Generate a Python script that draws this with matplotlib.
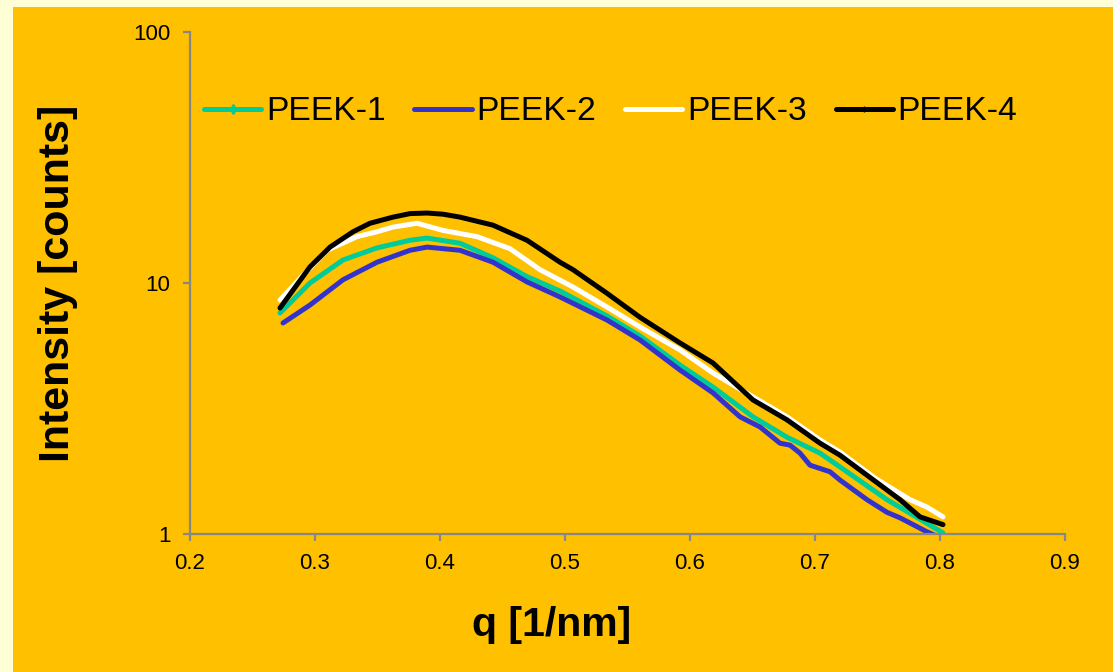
import numpy as np
import matplotlib.pyplot as plt
from matplotlib.lines import Line2D
from matplotlib.patches import Rectangle

# PEEK-1 (green)
q1 = [0.272, 0.296, 0.3224, 0.3496, 0.376, 0.3896, 0.416, 0.4424, 0.4696, 0.496,
      0.5336, 0.56, 0.592, 0.6184, 0.6504, 0.6776, 0.704, 0.72, 0.7576, 0.776, 0.8024]
i1 = [7.60, 10.0, 12.35, 13.8, 14.8, 15.1, 14.4, 12.6, 10.6, 9.29,
      7.39, 6.15, 4.71, 3.85, 2.93, 2.43, 2.10, 1.85, 1.37, 1.21, 1.01]

# PEEK-2 (blue)
q2 = [0.2744, 0.296, 0.3224, 0.3496, 0.376, 0.3896, 0.416, 0.4424, 0.4696, 0.496,
      0.5336, 0.56, 0.592, 0.6184, 0.64, 0.656, 0.672, 0.68, 0.688, 0.696, 0.712,
      0.72, 0.7416, 0.7576, 0.768, 0.7896, 0.7976]
i2 = [6.93, 8.17, 10.3, 12.1, 13.5, 13.9, 13.5, 12.1, 10.1, 8.80,
      7.12, 5.93, 4.50, 3.65, 2.93, 2.67, 2.30, 2.26, 2.10, 1.88, 1.77,
      1.64, 1.37, 1.22, 1.16, 1.02, 0.98]

# PEEK-3 (white)
q3 = [0.272, 0.296, 0.3096, 0.3336, 0.3496, 0.3624, 0.3816, 0.4024, 0.4296, 0.456,
      0.48, 0.5064, 0.5336, 0.56, 0.592, 0.6184, 0.6504, 0.6776, 0.704, 0.72,
      0.748, 0.776, 0.7896, 0.8024]
i3 = [8.55, 11.5, 13.5, 15.3, 16.0, 16.7, 17.3, 16.2, 15.3, 13.7,
      11.3, 9.64, 8.02, 6.68, 5.41, 4.38, 3.52, 2.93, 2.37, 2.12,
      1.67, 1.37, 1.28, 1.17]

# PEEK-4 (black)
q4 = [0.272, 0.296, 0.312, 0.3304, 0.344, 0.3624, 0.376, 0.3896, 0.4024, 0.416,
      0.4424, 0.4696, 0.496, 0.5064, 0.5336, 0.56, 0.592, 0.6184, 0.6504, 0.6776,
      0.704, 0.72, 0.768, 0.784, 0.8024]
i4 = [7.95, 11.6, 13.9, 16.0, 17.3, 18.3, 18.9, 19.0, 18.8, 18.3,
      17.0, 14.8, 12.1, 11.3, 9.1, 7.3, 5.77, 4.80, 3.42, 2.85,
      2.30, 2.06, 1.37, 1.17, 1.09]

names = ['PEEK-1', 'PEEK-2', 'PEEK-3', 'PEEK-4']
colors = ['#00CC99', '#3333CC', '#FFFFFF', '#000000']
yticks = [1, 10, 100]
xticks = [0.2, 0.3, 0.4, 0.5, 0.6, 0.7, 0.8, 0.9]

plt.rcParams['font.family'] = ['Liberation Sans', 'DejaVu Sans']

W, H = 1113, 672
fig = plt.figure(figsize=(W / 100, H / 100), dpi=100)
fig.patch.set_facecolor('#FFFFD5')
fig.add_artist(Rectangle((13 / W, 0), 1 - 13 / W, 1 - 7 / H, transform=fig.transFigure,
                         facecolor='#FFC000', edgecolor='none', zorder=0))

ax = fig.add_axes([190 / W, 1 - 534 / H, (1065 - 190) / W, (534 - 32) / H])
ax.set_facecolor('none')

series = [(q1, i1), (q2, i2), (q3, i3), (q4, i4)]
for (q, i), c, n in zip(series, colors, names):
    ax.plot(q, i, color=c, lw=3.6, solid_capstyle='round', solid_joinstyle='round', label=n)

ax.set_yscale('log')
ax.set_xlim(0.2, 0.9)
ax.set_ylim(1, 100)
ax.set_yticks(yticks)
ax.set_yticklabels([str(t) for t in yticks])
ax.yaxis.set_minor_locator(plt.NullLocator())
ax.set_xticks(xticks)
ax.set_xticklabels([f'{t:.1f}' for t in xticks])

for s in ['top', 'right']:
    ax.spines[s].set_visible(False)
for s in ['left', 'bottom']:
    ax.spines[s].set_color('#878787')
    ax.spines[s].set_linewidth(1.6)
ax.tick_params(axis='both', colors='#878787', labelcolor='black', labelsize=16,
               length=5, width=1.6, direction='out')
ax.tick_params(axis='y', pad=9)
ax.tick_params(axis='x', pad=9)

ax.set_ylabel('Intensity [counts]', fontsize=31, fontweight='bold', labelpad=40)
fig.text(552 / W, 1 - 625 / H, 'q [1/nm]', fontsize=29.5, fontweight='bold',
         ha='center', va='center')

handles = [Line2D([], [], color=colors[0], lw=3.6, marker='d', ms=5, solid_capstyle='round'),
           Line2D([], [], color=colors[1], lw=3.6, solid_capstyle='round'),
           Line2D([], [], color=colors[2], lw=3.6, solid_capstyle='round'),
           Line2D([], [], color=colors[3], lw=3.6, marker='|', ms=5, solid_capstyle='round')]
ax.legend(handles, names, loc='center left', bbox_to_anchor=(204 / W, 1 - 112 / H),
          bbox_transform=fig.transFigure, ncol=4, frameon=False, fontsize=24.2,
          handlelength=1.7, handletextpad=0.15, columnspacing=0.85, borderpad=0, borderaxespad=0)

fig.savefig('out.png', dpi=100, facecolor=fig.get_facecolor())
